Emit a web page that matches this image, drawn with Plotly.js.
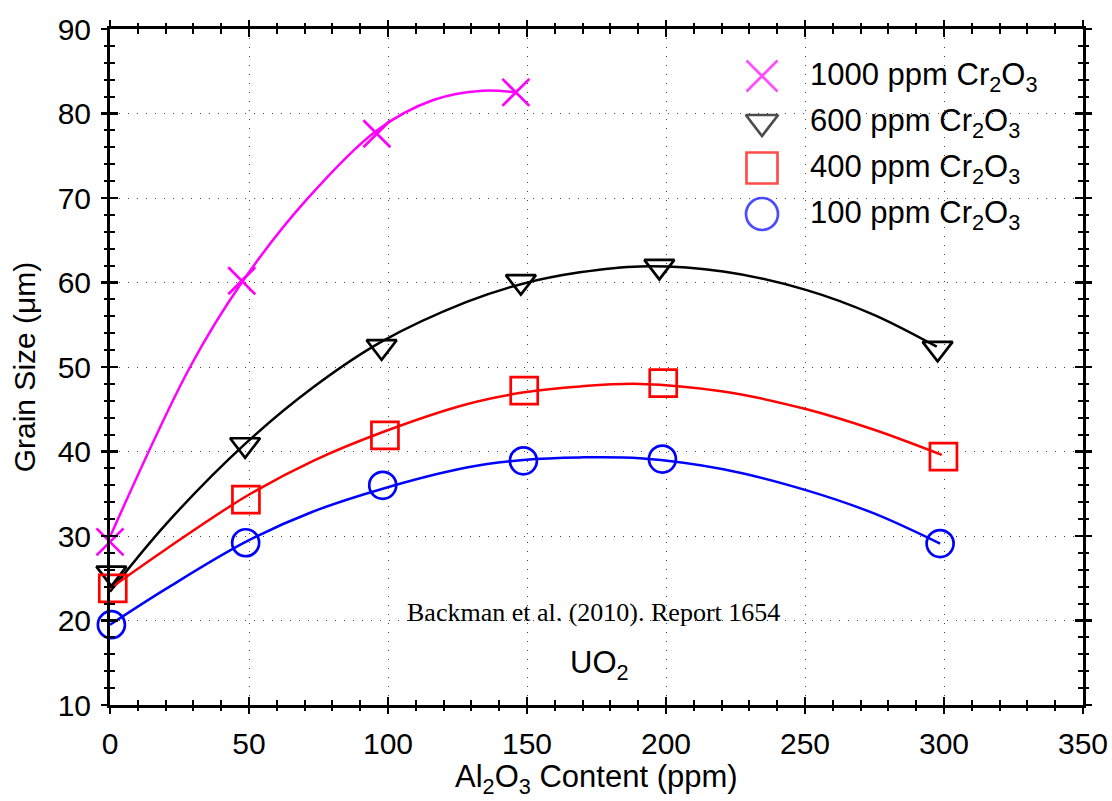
<!DOCTYPE html>
<html><head><meta charset="utf-8">
<script src="https://cdn.plot.ly/plotly-3.0.1.min.js"></script>
<style>html,body{margin:0;padding:0;background:#fff}#chart{width:1112px;height:801px}</style>
</head><body><div id="chart"></div>
<script>
// ---- data ----
const seriesNames = ['1000 ppm Cr<sub>2</sub>O<sub>3</sub>', '600 ppm Cr<sub>2</sub>O<sub>3</sub>', '400 ppm Cr<sub>2</sub>O<sub>3</sub>', '100 ppm Cr<sub>2</sub>O<sub>3</sub>'];
const seriesColors = ['#ff00ff', '#000000', '#ff0000', '#0000ff'];
const seriesSymbols = ['x-thin-open', 'triangle-down-open', 'square-open', 'circle-open'];

const al1000 = [0, 47.4, 96, 146];
const gs1000 = [29.3, 60.2, 77.6, 82.5];
const al600 = [0.5, 48.6, 97.7, 147.8, 197.6, 297.7];
const gs600 = [25.6, 40.8, 52.4, 60.1, 61.9, 52.2];
const al400 = [1, 48.9, 98.9, 149, 199, 299.8];
const gs400 = [23.8, 34.3, 41.9, 47.2, 48.1, 39.4];
const al100 = [0.5, 48.8, 98.1, 148.7, 198.7, 298.6];
const gs100 = [19.5, 29.2, 36.0, 38.9, 39.1, 29.1];

// fitted curves
const fitX1000 = [0, 28.8, 47.4, 70.7, 96, 116.3, 134, 146];
const fitY1000 = [29.9, 50.0, 60.0, 69.8, 78.0, 81.6, 82.7, 82.5];
const fitX600 = [0, 20.4, 48.6, 73.1, 97.7, 128.3, 147.8, 169, 190.6, 220.6, 250.6, 274.6, 297.4];
const fitY600 = [23.4, 31.5, 40.9, 47.6, 53.0, 57.7, 59.8, 61.2, 61.9, 61.3, 59.1, 56.2, 52.4];
const fitX400 = [0, 20.4, 49, 73.1, 98.9, 128.3, 149, 169, 190.6, 220.6, 250.6, 274.6, 299.2];
const fitY400 = [23.8, 28.5, 34.7, 38.9, 42.4, 45.6, 47.0, 47.7, 48.0, 47.1, 45.0, 42.6, 39.6];
const fitX100 = [0, 20.4, 48.8, 73.1, 98.1, 128.3, 148.7, 169, 190.6, 220.6, 250.6, 274.6, 298.6];
const fitY100 = [19.5, 23.8, 29.3, 32.9, 35.6, 38.1, 39.0, 39.3, 39.2, 37.9, 35.4, 32.7, 29.1];

const sourceNote = 'Backman et al. (2010). Report 1654';
const materialNote = 'UO<sub>2</sub>';
const xTitle = 'Al<sub>2</sub>O<sub>3</sub> Content (ppm)';
const yTitle = 'Grain Size (\u03bcm)';

// ---- build ----
const pts = [[al1000, gs1000], [al600, gs600], [al400, gs400], [al100, gs100]];
const fits = [[fitX1000, fitY1000], [fitX600, fitY600], [fitX400, fitY400], [fitX100, fitY100]];
const markerSizes = [27, 26, 27, 27];
const legendSizes = [31, 28, 31, 32];
const FONT = 'Liberation Sans, Arial, sans-serif';

const traces = [];
fits.forEach((f, i) => {
  traces.push({x: f[0], y: f[1], mode: 'lines', type: 'scatter', line: {color: seriesColors[i], width: 2.5, shape: 'spline', smoothing: 1}, hoverinfo: 'skip', showlegend: false});
});
pts.forEach((p, i) => {
  traces.push({x: p[0], y: p[1], mode: 'markers', type: 'scatter', name: seriesNames[i], cliponaxis: false,
    marker: {symbol: seriesSymbols[i], size: markerSizes[i], color: seriesColors[i], line: {color: seriesColors[i], width: 2.7}}, showlegend: false});
});

// custom legend on a pixel-unit overlay axis
const legX = 762, legTextX = 808, legY0 = 76, legDY = 46;
const legYs = seriesNames.map((_, i) => legY0 + legDY * i);
traces.push({x: seriesNames.map(() => legX), y: legYs, xaxis: 'x3', yaxis: 'y3', mode: 'markers', type: 'scatter', hoverinfo: 'skip', showlegend: false, cliponaxis: false,
  marker: {symbol: seriesSymbols, size: legendSizes, color: seriesColors, line: {color: seriesColors, width: 2.7}}});

const annotations = seriesNames.map((n, i) => ({xref: 'x3', yref: 'y3', x: legTextX, y: legYs[i] + 1, text: n, showarrow: false, xanchor: 'left', yanchor: 'middle', font: {family: FONT, size: 31, color: '#000'}}));
annotations.push({xref: 'x', yref: 'y', x: 174, y: 21, text: sourceNote, showarrow: false, font: {family: 'Liberation Serif, Times New Roman, serif', size: 26, color: '#000'}});
annotations.push({xref: 'x', yref: 'y', x: 176, y: 14.7, text: materialNote, showarrow: false, font: {family: FONT, size: 31, color: '#000'}});
// x-axis title (as annotation so it can sit lower than the margin allows)
annotations.push({xref: 'paper', yref: 'paper', x: 0.5, y: 0, yshift: -74, text: xTitle, showarrow: false, xanchor: 'center', yanchor: 'middle', font: {family: FONT, size: 31, color: '#000'}});

const baseAxis = {showline: true, linewidth: 3, linecolor: '#000', mirror: 'ticks', zeroline: false, automargin: false,
  tickcolor: '#000', tickwidth: 2.5, ticks: 'inside', ticklen: 8,
  showgrid: true, gridcolor: '#444', gridwidth: 1, griddash: '1px,8px',
  tickfont: {family: FONT, size: 30, color: '#000'}};

const layout = {
  width: 1112, height: 801,
  margin: {l: 110, r: 29, t: 29, b: 96},
  paper_bgcolor: '#fff', plot_bgcolor: '#fff',
  font: {family: FONT, color: '#000'},
  showlegend: false,
  xaxis: Object.assign({}, baseAxis, {range: [0, 350], dtick: 50, tick0: 0, ticklabelstandoff: 10,
    minor: {dtick: 10, ticks: 'inside', ticklen: 5, tickwidth: 2, tickcolor: '#000', showgrid: false}}),
  yaxis: Object.assign({}, baseAxis, {range: [10, 90], dtick: 10, tick0: 0, ticklabelstandoff: 10,
    minor: {dtick: 2, ticks: 'inside', ticklen: 5, tickwidth: 2, tickcolor: '#000', showgrid: false},
    title: {text: yTitle, font: {family: FONT, size: 30}, standoff: 14}}),
  xaxis2: {overlaying: 'x', matches: 'x', range: [0, 350], dtick: 50, tick0: 0, showline: false, showgrid: false, zeroline: false, showticklabels: false, mirror: 'ticks',
    ticks: 'outside', ticklen: 8, tickwidth: 2.5, tickcolor: '#000', automargin: false,
    minor: {dtick: 10, ticks: 'outside', ticklen: 5, tickwidth: 2, tickcolor: '#000', showgrid: false}},
  yaxis2: {overlaying: 'y', matches: 'y', range: [10, 90], dtick: 10, tick0: 0, showline: false, showgrid: false, zeroline: false, showticklabels: false, mirror: 'ticks',
    ticks: 'outside', ticklen: 8, tickwidth: 2.5, tickcolor: '#000', automargin: false,
    minor: {dtick: 2, ticks: 'outside', ticklen: 5, tickwidth: 2, tickcolor: '#000', showgrid: false}},
  xaxis3: {overlaying: 'x', range: [110, 1083], visible: false, fixedrange: true},
  yaxis3: {overlaying: 'y', range: [705, 29], visible: false, fixedrange: true},
  annotations: annotations
};

// empty trace so the tick-overlay subplot is created
traces.push({x: [], y: [], xaxis: 'x2', yaxis: 'y2', type: 'scatter', mode: 'markers', showlegend: false, hoverinfo: 'skip'});

Plotly.newPlot('chart', traces, layout, {staticPlot: true, displayModeBar: false});
</script>
</body></html>
